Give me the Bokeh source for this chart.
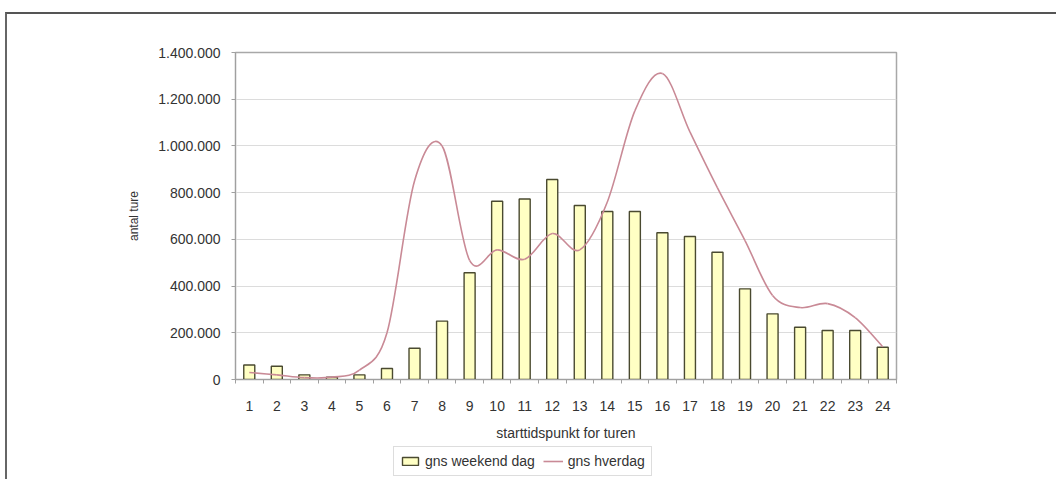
from bokeh.plotting import figure
from bokeh.layouts import column
from bokeh.models import (Range1d, FixedTicker, CustomJSTickFormatter, Legend,
                          LegendItem, ColumnDataSource, InlineStyleSheet)
from bokeh.embed import file_html
from bokeh.resources import INLINE

# Start hour of the trip (1-24)
hours = list(range(1, 25))
# Average number of trips on a weekend day
weekend = [62000, 57000, 20000, 10000, 20000, 47000, 134000, 250000,
           457000, 763000, 773000, 856000, 745000, 719000, 719000, 628000,
           612000, 545000, 388000, 281000, 224000, 210000, 210000, 138000]
# Average number of trips on a weekday
weekday = [30000, 20000, 8000, 10000, 40000, 200000, 850000, 1000000,
           510000, 555000, 515000, 625000, 555000, 760000, 1150000, 1310000,
           1060000, 820000, 595000, 360000, 308000, 325000, 265000, 140000]
y_ticks = [0, 200000, 400000, 600000, 800000, 1000000, 1200000, 1400000]

FONT = "Liberation Sans"
TEXT = "#333333"
BAR_FILL = "#ffffc4"
BAR_LINE = "#4a4a30"
LINE_COLOR = "#c98a96"

p = figure(width=1049, height=432,
           output_backend="svg", toolbar_location=None,
           x_range=Range1d(0.5, 24.5), y_range=Range1d(0, 1400000),
           min_border_left=228, min_border_right=160,
           min_border_top=38, min_border_bottom=67)

p.background_fill_color = "white"
p.border_fill_color = "white"
p.outline_line_color = "#a8a8a8"
p.outline_line_width = 1.5

# Grid
p.xgrid.grid_line_color = None
p.ygrid.grid_line_color = "#dcdcdc"
p.ygrid.grid_line_width = 1

# Y axis
p.yaxis.ticker = FixedTicker(ticks=y_ticks)
p.yaxis.formatter = CustomJSTickFormatter(
    code="return Math.round(tick).toString().replace(/\\B(?=(\\d{3})+(?!\\d))/g, '.');")
p.yaxis.axis_label = "antal ture"
p.yaxis.axis_label_text_font = FONT
p.yaxis.axis_label_text_font_size = "12px"
p.yaxis.axis_label_text_font_style = "normal"
p.yaxis.axis_label_text_color = TEXT
p.yaxis.axis_label_standoff = 14
p.yaxis.major_label_text_font = FONT
p.yaxis.major_label_text_font_size = "14px"
p.yaxis.major_label_text_color = TEXT
p.yaxis.major_label_standoff = 11
p.yaxis.axis_line_color = "#a0a0a0"
p.yaxis.major_tick_line_color = "#a0a0a0"
p.yaxis.major_tick_out = 4
p.yaxis.major_tick_in = 0
p.yaxis.minor_tick_line_color = None

# X axis: labels at the hours, small ticks between categories
p.xaxis.ticker = FixedTicker(ticks=hours, minor_ticks=[h + 0.5 for h in range(0, 25)])
p.xaxis.axis_label = "starttidspunkt for turen"
p.xaxis.axis_label_text_font = FONT
p.xaxis.axis_label_text_font_size = "14px"
p.xaxis.axis_label_text_font_style = "normal"
p.xaxis.axis_label_text_color = TEXT
p.xaxis.axis_label_standoff = 11
p.xaxis.major_label_text_font = FONT
p.xaxis.major_label_text_font_size = "14px"
p.xaxis.major_label_text_color = TEXT
p.xaxis.major_label_standoff = 15
p.xaxis.axis_line_color = "#a0a0a0"
p.xaxis.major_tick_line_color = None
p.xaxis.minor_tick_line_color = "#a0a0a0"
p.xaxis.minor_tick_out = 4
p.xaxis.minor_tick_in = 0

# Bars: weekend
bar_src = ColumnDataSource(dict(x=hours, top=weekend))
p.vbar(x="x", top="top", width=0.4, source=bar_src,
       fill_color=BAR_FILL, line_color=BAR_LINE, line_width=1.4)

# Smoothed weekday curve: cubic Bezier segments through the data points
n = len(hours)
x0, y0, x1, y1, cx0, cy0, cx1, cy1 = [], [], [], [], [], [], [], []
for i in range(n - 1):
    im1 = max(i - 1, 0)
    ip2 = min(i + 2, n - 1)
    x0.append(hours[i]); y0.append(weekday[i])
    x1.append(hours[i + 1]); y1.append(weekday[i + 1])
    cx0.append(hours[i] + (hours[i + 1] - hours[im1]) / 6)
    cy0.append(weekday[i] + (weekday[i + 1] - weekday[im1]) / 6)
    cx1.append(hours[i + 1] - (hours[ip2] - hours[i]) / 6)
    cy1.append(weekday[i + 1] - (weekday[ip2] - weekday[i]) / 6)
curve_src = ColumnDataSource(dict(x0=x0, y0=y0, x1=x1, y1=y1,
                                  cx0=cx0, cy0=cy0, cx1=cx1, cy1=cy1))
p.bezier(x0="x0", y0="y0", x1="x1", y1="y1", cx0="cx0", cy0="cy0",
         cx1="cx1", cy1="cy1", source=curve_src, line_color=LINE_COLOR, line_width=1.6)

# Legend strip below the chart; its key renderers are scaled to sit
# entirely behind the opaque legend box
lf = figure(width=1049, height=33, output_backend="svg", toolbar_location=None,
            x_axis_type=None, y_axis_type=None,
            x_range=Range1d(-20, 60), y_range=Range1d(-600000, 3000000),
            min_border=0)
lf.outline_line_color = None
lf.xgrid.grid_line_color = None
lf.ygrid.grid_line_color = None
lf.background_fill_color = "white"
lf.border_fill_color = "white"
key_bars = lf.vbar(x=hours, top=weekend, width=0.4,
                   fill_color=BAR_FILL, line_color=BAR_LINE, line_width=1.4)
key_line = lf.line(x=hours, y=weekday, line_color=LINE_COLOR, line_width=1.6)

legend = Legend(items=[LegendItem(label="gns weekend dag", renderers=[key_bars]),
                       LegendItem(label="gns hverdag", renderers=[key_line])],
                orientation="horizontal", location=(158, 3))
legend.label_text_font = FONT
legend.label_text_font_size = "14px"
legend.label_text_color = TEXT
legend.glyph_width = 20
legend.glyph_height = 10
legend.label_standoff = 5
legend.label_height = 14
legend.spacing = 8
legend.padding = 6
legend.margin = 0
legend.border_line_color = "#bbbbbb"
legend.border_line_width = 1
legend.background_fill_color = "white"
legend.background_fill_alpha = 1
lf.add_layout(legend, "center")

page = column(p, lf, spacing=0, margin=(12, 0, 0, 5))
page.stylesheets = [InlineStyleSheet(
    css=":host { border-top: 2px solid #555; border-left: 2px solid #666; border-right: 1px solid #ccc; }")]

open("out.html", "w").write(file_html(page, INLINE))
